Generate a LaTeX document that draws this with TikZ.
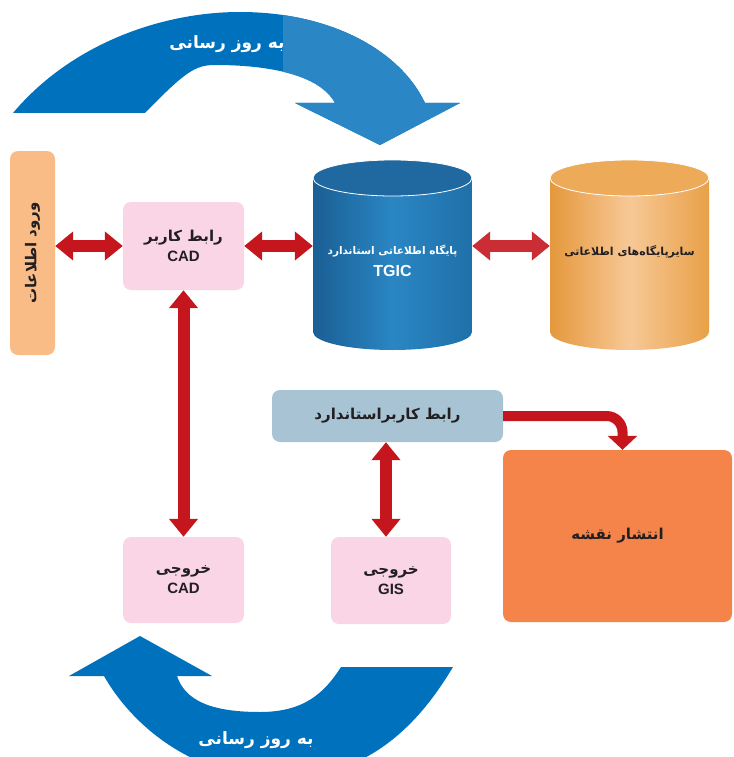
\documentclass[tikz,border=0pt]{standalone}
\usepackage{fontspec}
\setmainfont{Liberation Sans}
\newfontfamily\ar[Script=Arabic]{DejaVu Sans}
\TeXXeTstate=1
\usetikzlibrary{arrows.meta}
\definecolor{bluedark}{HTML}{0071BC}
\definecolor{bluelight}{HTML}{2B86C5}
\definecolor{myred}{HTML}{C4161C}
\definecolor{pinkbox}{HTML}{F9D5E5}
\definecolor{inbox}{HTML}{F9BC87}
\definecolor{stdbox}{HTML}{A8C4D4}
\definecolor{mapbox}{HTML}{F4844A}
\definecolor{txt}{HTML}{231F20}
\definecolor{cylA}{HTML}{1A5E94}
\definecolor{cylB}{HTML}{2A86C3}
\definecolor{cylC}{HTML}{1F70A8}
\definecolor{cylTop}{HTML}{1F69A0}
\definecolor{orA}{HTML}{E5983C}
\definecolor{orB}{HTML}{F7C896}
\definecolor{orC}{HTML}{E9A048}
\definecolor{orTop}{HTML}{EDAA58}
\begin{document}
\begin{tikzpicture}[x=1pt,y=-1pt,
  box/.style={rounded corners=8pt, inner sep=0pt, align=center, text=txt, font=\bfseries\fontsize{15}{20}\selectfont},
  redarrow/.style={draw=myred, line width=12pt, {Triangle[length=18pt,width=28pt]}-{Triangle[length=18pt,width=28pt]}},
  onearrow/.style={draw=myred, line width=10pt, rounded corners=16pt, -{Triangle[length=14pt,width=29pt]}},
  bigtext/.style={text=white, font=\ar\bfseries\fontsize{17}{22}\selectfont}]
\useasboundingbox (0,0) rectangle (733,757);
\clip (0,0) rectangle (733,757);

% top update arrow
\path[fill=bluedark] (13,113) .. controls (70,45) and (160,12) .. (240,12)
  .. controls (330,12) and (400,50) .. (425,103) -- (460,103) -- (380,145) -- (295,103) -- (335,103)
  .. controls (320,75) and (270,65) .. (215,65) .. controls (195,65) and (185,72) .. (145,113) -- cycle;
\begin{scope}
\clip (283,0) rectangle (733,160);
\path[fill=bluelight] (13,113) .. controls (70,45) and (160,12) .. (240,12)
  .. controls (330,12) and (400,50) .. (425,103) -- (460,103) -- (380,145) -- (295,103) -- (335,103)
  .. controls (320,75) and (270,65) .. (215,65) .. controls (195,65) and (185,72) .. (145,113) -- cycle;
\end{scope}
\node[bigtext] (upd1) at (227,44) {\beginR به روز رسانی\endR};

% bottom update arrow
\path[fill=bluedark] (104,676) .. controls (130,722) and (190,778) .. (280,778)
  .. controls (370,778) and (420,722) .. (453,667) -- (341,667)
  .. controls (325,692) and (305,712) .. (260,712) .. controls (210,712) and (185,700) .. (177,676)
  -- (212,676) -- (140,636) -- (69,676) -- cycle;
\node[bigtext] (upd2) at (256,740) {\beginR به روز رسانی\endR};

% blue cylinder
\path[left color=cylA, right color=cylC, middle color=cylB]
  (313,178) -- (313,332) .. controls (313,341.94) and (348.6,350) .. (392.5,350)
  .. controls (436.4,350) and (472,341.94) .. (472,332) -- (472,178) -- cycle;
\filldraw[fill=cylTop, draw=white, line width=0.8pt] (392.5,178) ellipse [x radius=79.5, y radius=18];
\node[inner sep=0pt, minimum width=159pt, minimum height=150pt, align=center, text=white,
  font=\bfseries\fontsize{10.5}{22}\selectfont] (db) at (392.5,261)
  {{\ar\beginR پایگاه اطلاعاتی استاندارد\endR}\\{\fontsize{16}{20}\selectfont TGIC}};

% orange cylinder
\path[left color=orA, right color=orC, middle color=orB]
  (550,178) -- (550,332) .. controls (550,341.94) and (585.6,350) .. (629.5,350)
  .. controls (673.4,350) and (709,341.94) .. (709,332) -- (709,178) -- cycle;
\filldraw[fill=orTop, draw=white, line width=0.8pt] (629.5,178) ellipse [x radius=79.5, y radius=18];
\node[inner sep=0pt, minimum width=159pt, minimum height=150pt, align=center, text=txt,
  font=\ar\bfseries\fontsize{11}{14}\selectfont] (odb) at (629.5,252)
  {\beginR سایرپایگاه‌های اطلاعاتی\endR};

% boxes
\node[box, fill=inbox, minimum width=45pt, minimum height=204pt] (in) at (32.5,253) {};
\node[text=txt, font=\ar\bfseries\fontsize{15}{18}\selectfont, rotate=90] (intext) at (32.5,253) {\beginR ورود اطلاعات\endR};
\node[box, fill=pinkbox, minimum width=121pt, minimum height=88pt] (cadui) at (183.5,246)
  {{\ar\beginR رابط کاربر\endR}\\CAD};
\node[box, fill=pinkbox, minimum width=121pt, minimum height=86pt] (outcad) at (183.5,580)
  {{\ar\beginR خروجی\endR}\\CAD};
\node[box, fill=pinkbox, minimum width=120pt, minimum height=87pt] (outgis) at (391,580.5)
  {{\ar\beginR خروجی\endR}\\GIS};
\node[box, fill=stdbox, minimum width=231pt, minimum height=52pt] (std) at (387.5,416)
  {\ar\beginR رابط کاربراستاندارد\endR};
\node[box, fill=mapbox, minimum width=229pt, minimum height=172pt] (map) at (617.5,536)
  {\ar\beginR انتشار نقشه\endR};

% connectors
\draw[redarrow] (in.east |- cadui.west) -- (cadui.west);
\draw[redarrow] (cadui.east) -- (cadui.east -| db.west);
\draw[redarrow, draw=myred!90!white] (cadui.east -| db.east) -- (cadui.east -| odb.west);
\draw[redarrow] (cadui.south) -- (outcad.north);
\draw[redarrow] (std.south -| 386,0) -- (outgis.north -| 386,0);
\draw[onearrow] (std.east) -| ([xshift=5pt]map.north);
\end{tikzpicture}
\end{document}
